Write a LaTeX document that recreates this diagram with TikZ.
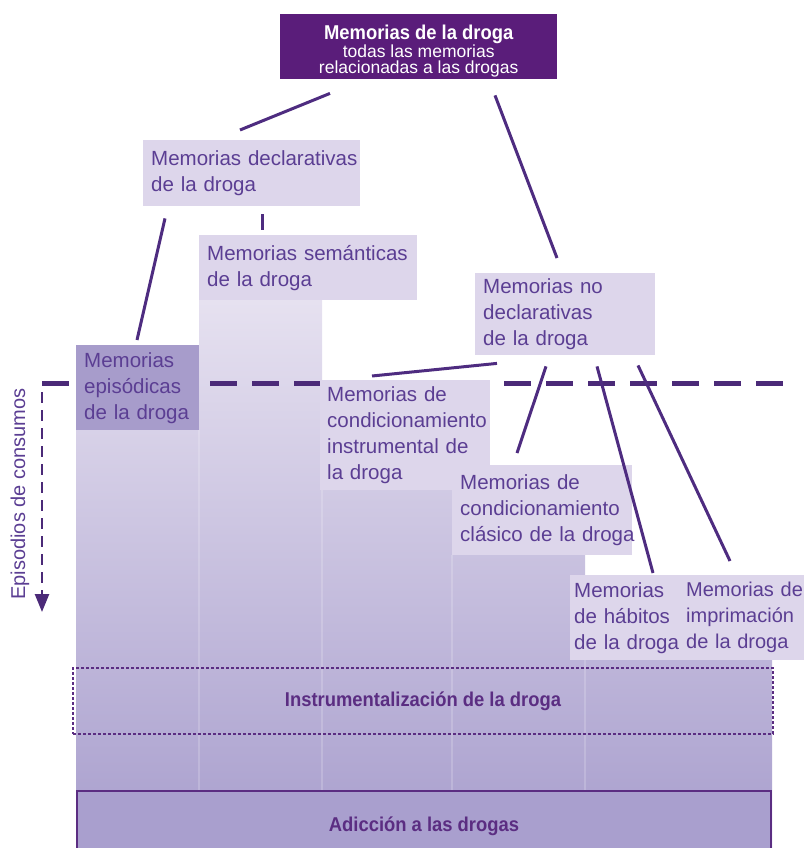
\documentclass[tikz,border=0pt]{standalone}
\usepackage{fontspec}
\setmainfont{Liberation Sans}
\newfontfamily\condfont{Liberation Sans}[FakeStretch=0.92]
\usetikzlibrary{arrows.meta,calc}

\definecolor{topfill}{HTML}{5A1D7A}
\definecolor{boxfill}{HTML}{DDD6EB}
\definecolor{epifill}{HTML}{A79CCB}
\definecolor{memotext}{HTML}{5B3E93}
\definecolor{linkcol}{HTML}{4E2C80}
\definecolor{dashcol}{HTML}{4B2A78}
\definecolor{bandtext}{HTML}{5B2D82}
\definecolor{addfill}{HTML}{A99FCE}
\definecolor{gradtop}{HTML}{E6E1F0}
\definecolor{gradbot}{HTML}{A89ECD}

\begin{document}
\begin{tikzpicture}[x=1pt, y=-1pt,
    memo/.style={fill=boxfill, text=memotext, font=\fontsize{20.5}{26}\selectfont,
        align=left, anchor=north west, inner xsep=8pt, inner ysep=0pt},
    link/.style={draw=linkcol, line width=3pt},
    band/.style={anchor=north west, text=bandtext, line width=2pt,
        font=\condfont\bfseries\fontsize{20}{22}\selectfont, inner sep=0pt}]
    \useasboundingbox (0,0) rectangle (804,848);

    % shaded columns
    \begin{scope}
        \clip (76,430) -| (199,300) -| (322,490) -| (452,555) -| (585,660) -| (772,848) -- (76,848) -- cycle;
        \shade[top color=gradtop, bottom color=gradbot] (70,300) rectangle (780,848);
        \foreach \x/\y in {199/430, 322/490, 452/555, 585/660}
            \draw[white, opacity=0.18, line width=1.5pt] (\x,\y) -- (\x,790);
    \end{scope}

    % consumption episodes
    \draw[line width=5pt, dashcol, dash pattern=on 27pt off 15pt] (42,383) -- (792,383);
    \draw[line width=2.5pt, dashcol, dash pattern=on 11pt off 7pt, -{Triangle[length=18pt,width=14pt]}] (42,392) -- (42,612);
    \node[rotate=90, text=memotext, font=\fontsize{20}{24}\selectfont, inner sep=0pt] (episodes) at (20,494) {Episodios de consumos};

    % memory boxes
    \node[anchor=north west, fill=topfill, text=white, minimum width=277pt, minimum height=65pt,
        inner sep=0pt, align=center, font=\fontsize{17.5}{16.5}\selectfont] (drugmem) at (280,14)
        {{\condfont\bfseries\fontsize{20}{20}\selectfont\rule{0pt}{23pt}Memorias de la droga}\\todas las memorias\\relacionadas a las drogas};
    \node[memo, text width=201pt, minimum height=66pt] (decl) at (143,140) {\mbox{Memorias declarativas}\\de la droga};
    \node[memo, text width=202pt, minimum height=65pt] (seman) at (199,235) {\mbox{Memorias semánticas}\\de la droga};
    \node[memo, fill=epifill, text width=107pt, minimum height=85pt] (epis) at (76,345) {Memorias\\episódicas\\\mbox{de la droga}};
    \node[memo, text width=164pt, minimum height=82pt] (nodecl) at (475,273) {Memorias no\\declarativas\\de la droga};
    \node[memo, inner xsep=7pt, text width=156pt, minimum height=110pt] (cinstr) at (320,380) {Memorias de\\\mbox{condicionamiento}\\\mbox{instrumental de}\\la droga};
    \node[memo, text width=164pt, minimum height=90pt] (cclas) at (452,465) {Memorias de\\\mbox{condicionamiento}\\\mbox{clásico de la droga}};
    \node[memo, inner xsep=4pt, text width=102pt, minimum height=85pt] (habit) at (570,575) {Memorias\\\mbox{de hábitos}\\\mbox{de la droga}};
    \node[memo, inner xsep=6pt, text width=112pt, minimum height=85pt, font=\fontsize{20}{26}\selectfont] (impr) at (680,575) {\mbox{Memorias de}\\imprimación\\\mbox{de la droga}};

    % outcome bands
    \node[band, draw=bandtext, dash pattern=on 3pt off 2pt, minimum width=700pt, minimum height=66pt] (instrum) at (72,667) {Instrumentalización de la droga};
    \node[band, draw=bandtext, fill=addfill, minimum width=694pt, minimum height=70pt] (addict) at (76,790) {Adicción a las drogas};

    % links
    \draw[link] ($(drugmem.south west)+(50,14)$) -- ($(decl.north west)+(97,-10)$);
    \draw[link] ($(drugmem.south west)+(215,16)$) -- ($(nodecl.north west)+(82,-15)$);
    \draw[link] ($(decl.south west)+(119,8)$) -- ($(seman.north west)+(63,-5)$);
    \draw[link] ($(decl.south west)+(22,12)$) -- ($(epis.north west)+(61,-5)$);
    \draw[link] ($(nodecl.south west)+(22,8)$) -- ($(cinstr.north west)+(52,-4)$);
    \draw[link] ($(nodecl.south west)+(71,11)$) -- ($(cclas.north west)+(65,-12)$);
    \draw[link] ($(nodecl.south west)+(122,11)$) -- ($(habit.north west)+(83,-2)$);
    \draw[link] ($(nodecl.south west)+(163,10)$) -- ($(impr.north west)+(50,-14)$);
\end{tikzpicture}
\end{document}
